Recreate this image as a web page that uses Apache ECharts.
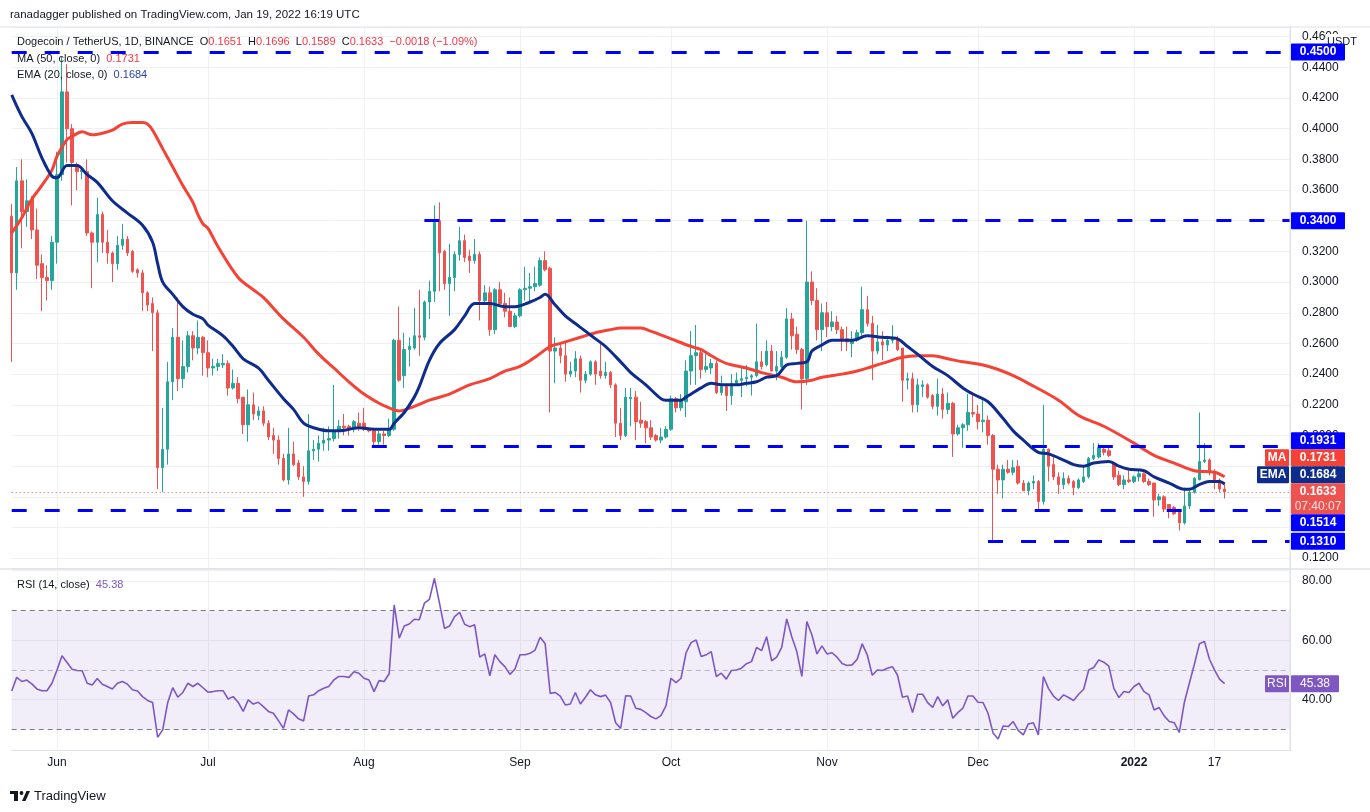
<!DOCTYPE html>
<html lang="en">
<head>
<meta charset="UTF-8">
<title>Dogecoin / TetherUS, 1D</title>
<script src="https://cdn.jsdelivr.net/npm/echarts@6/dist/echarts.min.js"></script>
<style>
  html, body { margin: 0; padding: 0; background: #fff; }
  #main { width: 1370px; height: 812px; }
</style>
</head>
<body>
<div id="main"></div>
<script>
// first daily candle and length of the time axis (a few empty days on the right)
const firstDay = [2021, 4, 23];
const dayCount = 255;

// time axis labels (and vertical grid lines)
const timeLabels = {
  '2021-06-01': 'Jun', '2021-07-01': 'Jul', '2021-08-01': 'Aug', '2021-09-01': 'Sep',
  '2021-10-01': 'Oct', '2021-11-01': 'Nov', '2021-12-01': 'Dec', '2022-01-01': '2022', '2022-01-17': '17'
};

// daily candles: [open, high, low, close]
const ohlc = [
  [0.343,0.351,0.248,0.306],[0.306,0.375,0.295,0.366],[0.366,0.380,0.322,0.346],[0.346,0.367,0.336,0.353],[0.354,0.356,0.328,0.334],
  [0.334,0.348,0.302,0.311],[0.312,0.318,0.281,0.303],[0.303,0.311,0.288,0.301],[0.301,0.330,0.295,0.326],[0.326,0.385,0.312,0.370],
  [0.370,0.447,0.366,0.424],[0.424,0.442,0.378,0.400],[0.400,0.403,0.350,0.378],[0.376,0.378,0.360,0.372],[0.372,0.375,0.367,0.373],
  [0.372,0.380,0.330,0.332],[0.332,0.333,0.296,0.326],[0.326,0.355,0.313,0.344],[0.344,0.346,0.319,0.326],[0.326,0.334,0.312,0.319],
  [0.319,0.320,0.300,0.312],[0.312,0.330,0.308,0.324],[0.324,0.338,0.321,0.328],[0.328,0.330,0.317,0.319],[0.320,0.321,0.306,0.307],
  [0.308,0.309,0.303,0.306],[0.306,0.308,0.281,0.293],[0.293,0.294,0.281,0.285],[0.286,0.290,0.255,0.280],[0.280,0.282,0.165,0.179],
  [0.179,0.218,0.163,0.191],[0.191,0.248,0.181,0.235],[0.235,0.270,0.223,0.264],[0.264,0.290,0.229,0.237],[0.237,0.262,0.231,0.245],
  [0.245,0.268,0.241,0.265],[0.265,0.268,0.249,0.257],[0.257,0.275,0.253,0.264],[0.264,0.265,0.239,0.254],[0.254,0.262,0.238,0.244],
  [0.244,0.250,0.239,0.245],[0.245,0.250,0.242,0.247],[0.246,0.253,0.244,0.247],[0.247,0.249,0.226,0.231],[0.231,0.243,0.230,0.234],
  [0.234,0.238,0.221,0.224],[0.225,0.225,0.201,0.207],[0.207,0.230,0.196,0.220],[0.220,0.228,0.210,0.214],[0.213,0.219,0.210,0.216],
  [0.216,0.219,0.206,0.208],[0.208,0.210,0.197,0.199],[0.200,0.205,0.188,0.197],[0.197,0.200,0.181,0.185],[0.185,0.188,0.170,0.171],
  [0.171,0.205,0.168,0.188],[0.188,0.196,0.180,0.181],[0.182,0.184,0.171,0.173],[0.173,0.180,0.160,0.170],[0.170,0.214,0.168,0.190],
  [0.190,0.197,0.184,0.191],[0.191,0.200,0.183,0.195],[0.195,0.205,0.190,0.197],[0.197,0.206,0.190,0.198],[0.198,0.233,0.196,0.203],
  [0.203,0.210,0.198,0.206],[0.206,0.214,0.200,0.205],[0.206,0.207,0.200,0.204],[0.204,0.210,0.202,0.209],[0.208,0.215,0.203,0.206],
  [0.208,0.218,0.203,0.204],[0.204,0.205,0.202,0.203],[0.203,0.205,0.193,0.196],[0.196,0.203,0.194,0.201],[0.201,0.203,0.194,0.200],
  [0.200,0.211,0.199,0.204],[0.204,0.263,0.203,0.262],[0.262,0.284,0.235,0.236],[0.239,0.267,0.231,0.256],[0.256,0.264,0.245,0.258],
  [0.257,0.283,0.256,0.265],[0.265,0.295,0.252,0.264],[0.264,0.288,0.262,0.287],[0.287,0.301,0.276,0.294],[0.294,0.350,0.287,0.339],
  [0.340,0.352,0.294,0.319],[0.320,0.321,0.295,0.299],[0.299,0.325,0.278,0.303],[0.303,0.320,0.294,0.318],[0.318,0.336,0.314,0.327],
  [0.327,0.331,0.313,0.316],[0.317,0.321,0.306,0.314],[0.314,0.328,0.312,0.318],[0.318,0.320,0.275,0.288],[0.288,0.298,0.285,0.293],
  [0.293,0.297,0.265,0.269],[0.269,0.296,0.266,0.295],[0.295,0.300,0.284,0.286],[0.286,0.293,0.277,0.281],[0.281,0.290,0.271,0.271],
  [0.271,0.280,0.270,0.278],[0.278,0.296,0.277,0.295],[0.295,0.310,0.288,0.296],[0.296,0.306,0.287,0.297],[0.297,0.310,0.294,0.299],
  [0.298,0.316,0.297,0.314],[0.314,0.320,0.307,0.308],[0.309,0.310,0.215,0.255],[0.255,0.264,0.234,0.257],[0.257,0.260,0.247,0.252],
  [0.252,0.261,0.235,0.240],[0.240,0.248,0.238,0.242],[0.242,0.255,0.238,0.250],[0.250,0.252,0.228,0.236],[0.236,0.242,0.234,0.240],
  [0.240,0.249,0.239,0.248],[0.248,0.249,0.233,0.240],[0.242,0.260,0.237,0.239],[0.239,0.248,0.237,0.241],[0.241,0.242,0.231,0.233],
  [0.233,0.234,0.199,0.208],[0.208,0.218,0.197,0.200],[0.200,0.231,0.199,0.225],[0.224,0.231,0.206,0.225],[0.225,0.229,0.197,0.209],
  [0.210,0.222,0.205,0.208],[0.209,0.210,0.195,0.205],[0.205,0.210,0.197,0.199],[0.200,0.201,0.196,0.197],[0.197,0.205,0.195,0.199],
  [0.199,0.206,0.198,0.204],[0.204,0.226,0.203,0.224],[0.224,0.225,0.215,0.218],[0.218,0.227,0.216,0.223],[0.222,0.249,0.212,0.242],
  [0.242,0.268,0.233,0.252],[0.252,0.272,0.233,0.254],[0.254,0.256,0.237,0.243],[0.243,0.255,0.241,0.245],[0.244,0.250,0.240,0.247],
  [0.247,0.249,0.227,0.228],[0.228,0.239,0.226,0.232],[0.232,0.233,0.216,0.226],[0.226,0.240,0.220,0.234],[0.234,0.241,0.233,0.236],
  [0.236,0.244,0.225,0.237],[0.237,0.246,0.232,0.238],[0.238,0.240,0.226,0.239],[0.239,0.273,0.238,0.248],[0.248,0.255,0.243,0.245],
  [0.246,0.262,0.245,0.255],[0.255,0.259,0.242,0.242],[0.242,0.255,0.236,0.245],[0.245,0.255,0.244,0.251],[0.251,0.283,0.250,0.276],
  [0.276,0.280,0.256,0.265],[0.266,0.271,0.253,0.256],[0.256,0.257,0.217,0.237],[0.237,0.340,0.233,0.300],[0.300,0.307,0.285,0.288],
  [0.288,0.296,0.262,0.269],[0.269,0.286,0.255,0.280],[0.280,0.287,0.264,0.271],[0.271,0.281,0.268,0.274],[0.274,0.278,0.266,0.269],
  [0.269,0.271,0.255,0.262],[0.263,0.271,0.255,0.261],[0.260,0.268,0.251,0.262],[0.262,0.269,0.261,0.267],[0.267,0.297,0.265,0.282],
  [0.282,0.291,0.271,0.273],[0.273,0.278,0.236,0.255],[0.255,0.272,0.253,0.261],[0.261,0.268,0.249,0.259],[0.259,0.265,0.255,0.262],
  [0.262,0.272,0.260,0.263],[0.263,0.265,0.255,0.256],[0.257,0.257,0.222,0.236],[0.236,0.241,0.230,0.237],[0.237,0.241,0.215,0.220],
  [0.220,0.237,0.215,0.233],[0.232,0.236,0.225,0.233],[0.233,0.234,0.224,0.225],[0.226,0.227,0.217,0.219],[0.219,0.237,0.213,0.227],
  [0.227,0.231,0.211,0.217],[0.217,0.228,0.214,0.221],[0.221,0.222,0.186,0.201],[0.201,0.207,0.200,0.205],[0.205,0.208,0.192,0.207],
  [0.207,0.227,0.203,0.215],[0.215,0.227,0.212,0.214],[0.214,0.220,0.204,0.209],[0.209,0.223,0.202,0.210],[0.210,0.213,0.194,0.200],
  [0.200,0.201,0.131,0.178],[0.178,0.181,0.162,0.171],[0.171,0.181,0.159,0.178],[0.178,0.184,0.175,0.176],[0.176,0.184,0.174,0.179],
  [0.180,0.184,0.168,0.169],[0.169,0.171,0.164,0.164],[0.164,0.170,0.161,0.169],[0.169,0.174,0.165,0.170],[0.170,0.171,0.151,0.157],
  [0.157,0.220,0.155,0.191],[0.191,0.1915,0.170,0.180],[0.181,0.186,0.171,0.173],[0.173,0.176,0.162,0.168],[0.168,0.176,0.165,0.172],
  [0.172,0.174,0.168,0.169],[0.170,0.171,0.161,0.166],[0.166,0.172,0.165,0.171],[0.170,0.180,0.169,0.173],[0.173,0.186,0.172,0.185],
  [0.185,0.195,0.184,0.187],[0.186,0.195,0.185,0.192],[0.191,0.193,0.187,0.189],[0.190,0.193,0.186,0.187],[0.182,0.183,0.171,0.173],
  [0.174,0.177,0.167,0.168],[0.168,0.174,0.165,0.171],[0.171,0.177,0.169,0.170],[0.170,0.174,0.169,0.173],[0.173,0.177,0.170,0.175],
  [0.175,0.176,0.169,0.170],[0.170,0.172,0.167,0.168],[0.169,0.169,0.147,0.158],[0.158,0.162,0.154,0.160],[0.160,0.161,0.150,0.152],
  [0.155,0.155,0.146,0.151],[0.153,0.154,0.148,0.149],[0.151,0.152,0.138,0.143],[0.143,0.166,0.142,0.154],[0.154,0.164,0.152,0.163],
  [0.163,0.173,0.162,0.172],[0.171,0.215,0.171,0.183],[0.183,0.195,0.182,0.184],[0.184,0.185,0.174,0.176],[0.176,0.178,0.165,0.171],
  [0.171,0.172,0.163,0.1651],[0.1651,0.1696,0.1589,0.1633]
];

// moving averages read at sample days: [candle number (1 = first), value]
const ma50 = [
  [1,0.332],[3,0.342],[5,0.354],[7,0.363],[9,0.373],[10,0.382],[12,0.393],[13,0.395],[15,0.398],[17,0.396],
  [19,0.397],[21,0.399],[23,0.403],[25,0.404],[27,0.404],[28,0.403],[29,0.399],[31,0.387],[33,0.375],[35,0.363],
  [37,0.352],[38,0.344],[39,0.338],[40,0.335],[42,0.323],[46,0.303],[49,0.295],[51,0.290],[55,0.276],[59,0.264],
  [62,0.253],[65,0.244],[68,0.235],[71,0.227],[74,0.221],[76,0.218],[78,0.216],[81,0.219],[84,0.223],[88,0.227],
  [92,0.233],[96,0.237],[99,0.242],[102,0.245],[105,0.251],[108,0.258],[110,0.260],[114,0.264],[117,0.267],[120,0.269],
  [122,0.270],[126,0.270],[128,0.268],[132,0.263],[136,0.258],[138,0.256],[140,0.252],[143,0.247],[147,0.244],[150,0.241],
  [154,0.238],[157,0.235],[160,0.236],[162,0.238],[166,0.240],[169,0.242],[172,0.245],[175,0.248],[178,0.251],[181,0.252],
  [184,0.252],[187,0.250],[190,0.248],[194,0.246],[197,0.243],[200,0.239],[203,0.234],[209,0.223],[213,0.213],[218,0.206],
  [224,0.195],[228,0.187],[232,0.182],[236,0.177],[240,0.176],[242,0.1731]
];
const ema20 = [
  [1,0.422],[3,0.408],[5,0.397],[7,0.381],[9,0.369],[10,0.368],[12,0.376],[14,0.376],[16,0.370],[18,0.365],
  [21,0.353],[24,0.345],[27,0.337],[29,0.326],[30,0.312],[31,0.300],[33,0.292],[35,0.284],[37,0.279],[39,0.276],
  [40,0.272],[43,0.265],[45,0.258],[47,0.250],[50,0.244],[52,0.236],[55,0.224],[57,0.217],[59,0.208],[61,0.205],
  [64,0.203],[66,0.203],[70,0.205],[73,0.204],[76,0.204],[77,0.208],[79,0.215],[81,0.225],[82,0.232],[84,0.249],
  [86,0.260],[89,0.269],[91,0.278],[93,0.286],[96,0.286],[99,0.284],[101,0.284],[104,0.287],[106,0.290],[107,0.292],
  [109,0.285],[111,0.278],[113,0.273],[115,0.268],[117,0.263],[119,0.258],[122,0.248],[124,0.241],[127,0.233],[130,0.224],
  [131,0.223],[134,0.223],[135,0.225],[138,0.231],[140,0.234],[142,0.233],[145,0.233],[147,0.234],[149,0.235],[151,0.238],
  [153,0.239],[155,0.246],[157,0.247],[159,0.248],[160,0.255],[162,0.259],[164,0.262],[168,0.262],[171,0.265],[174,0.264],
  [177,0.263],[179,0.258],[181,0.253],[184,0.245],[187,0.239],[190,0.231],[192,0.227],[195,0.222],[198,0.211],[200,0.203],
  [202,0.197],[205,0.189],[207,0.188],[210,0.184],[212,0.181],[214,0.180],[216,0.182],[219,0.183],[221,0.180],[223,0.178],
  [226,0.177],[228,0.173],[231,0.169],[234,0.165],[235,0.165],[237,0.168],[239,0.170],[241,0.170],[242,0.1684]
];

// RSI (14) per candle
const rsi14 = [
  42.9,47.5,46.1,46.6,45.3,43.6,43.0,43.0,45.5,50.0, 54.8,52.5,50.2,49.8,49.7,45.5,44.9,47.1,45.2,44.4,
  43.6,45.5,46.1,45.2,43.3,42.9,41.0,39.7,39.0,27.3, 29.8,39.0,44.0,40.8,42.4,45.5,44.4,45.5,44.0,42.5,
  42.7,43.0,43.0,40.2,41.0,39.1,36.0,39.9,38.5,39.1, 37.6,36.0,35.4,32.9,30.3,36.5,35.2,33.5,32.8,41.2,
  41.6,43.0,43.8,44.4,46.6,47.8,47.8,47.5,49.4,48.9, 47.2,46.6,42.7,46.4,46.1,48.7,71.9,60.7,64.8,65.5,
  67.1,66.9,72.5,73.8,80.9,72.5,64.0,64.8,68.0,69.4, 65.4,64.6,65.2,54.3,55.4,48.0,55.1,52.8,51.1,48.5,
  50.3,55.1,55.1,55.6,56.7,61.0,58.8,42.1,42.4,41.2, 38.2,38.5,42.4,38.5,40.8,43.3,41.6,41.0,41.5,39.0,
  32.2,30.3,41.3,41.2,37.1,36.7,35.6,34.3,33.5,34.6, 37.9,47.2,45.7,47.2,55.8,59.2,60.1,54.5,55.1,56.2,
  47.8,48.9,46.9,49.8,50.0,50.6,52.1,52.8,57.6,56.5, 61.2,53.1,54.3,57.6,67.2,61.2,56.2,47.8,66.3,61.8,
  55.4,58.1,55.4,55.8,54.3,52.2,51.5,51.7,53.6,58.8, 55.1,48.2,50.0,49.8,50.6,51.1,48.3,40.8,41.2,35.6,
  41.8,41.8,39.0,37.4,41.0,37.9,39.9,33.7,35.6,37.1, 41.2,41.2,39.1,39.0,35.4,28.7,26.7,31.1,30.9,32.6,
  29.6,28.1,31.8,32.2,28.1,47.8,43.8,41.2,39.7,41.6, 40.7,39.7,41.8,43.5,50.0,50.8,53.4,52.6,51.3,43.8,
  40.7,42.7,42.4,44.4,45.5,42.7,41.6,36.5,37.3,34.5, 32.6,32.2,28.9,39.0,45.5,51.9,58.8,59.6,53.6,50.0,
  46.9,45.38
];

// horizontal support / resistance levels: value and first candle number
const levels = [
  { value: 0.4500, from: 1 },
  { value: 0.3400, from: 83 },
  { value: 0.1931, from: 66 },
  { value: 0.1514, from: 1 },
  { value: 0.1310, from: 195 }
];

const lastClose = 0.1633;
const lastMA = 0.1731;
const lastEMA = 0.1684;
const lastRSI = 45.38;

// ---------------------------------------------------------------
const dates = [];
const t0 = Date.UTC(firstDay[0], firstDay[1], firstDay[2]);
for (let i = 0; i < dayCount; i++) {
  dates.push(new Date(t0 + i * 86400000).toISOString().slice(0, 10));
}
const lastDate = dates[dates.length - 1];

const candleData = ohlc.map(r => [r[0], r[3], r[2], r[1]]);
const maData = ma50.map(p => [dates[p[0] - 1], p[1]]);
const emaData = ema20.map(p => [dates[p[0] - 1], p[1]]);
const rsiData = rsi14.map((v, i) => [dates[i], v]);

const FONT = "'Liberation Sans', Arial, sans-serif";
const TXT = '#131722';
const GRID = '#eef0f4';
const UP = '#26a69a', DOWN = '#ef5350';
const MA_C = '#f44336', EMA_C = '#0e2c8e', RSI_C = '#7e57c2', LEVEL_C = '#0000ff';

function isMark(i, v) { return timeLabels[v] !== undefined; }

const levelLines = levels.map(l => [
  { coord: [dates[l.from - 1], l.value], lineStyle: { color: LEVEL_C, width: 3, type: [15, 18] } },
  { coord: [lastDate, l.value] }
]);
levelLines.push([
  { coord: [dates[0], lastClose], lineStyle: { color: DOWN, width: 1, type: [1, 3] } },
  { coord: [lastDate, lastClose] }
]);

const option = {
  animation: false,
  backgroundColor: '#ffffff',
  textStyle: { fontFamily: FONT },
  grid: [
    { left: 11.7, right: 80, top: 27, height: 541 },
    { left: 11.7, right: 80, top: 570, height: 180 }
  ],
  xAxis: [
    {
      type: 'category', gridIndex: 0, data: dates, boundaryGap: false,
      axisLine: { show: false }, axisTick: { show: false }, axisLabel: { show: false },
      splitLine: { show: true, interval: isMark, lineStyle: { color: GRID, width: 1 } }
    },
    {
      type: 'category', gridIndex: 1, data: dates, boundaryGap: false,
      axisLine: { show: true, lineStyle: { color: '#e0e3eb' } }, axisTick: { show: false },
      axisLabel: {
        show: true, interval: isMark, margin: 7, fontSize: 12, color: TXT, fontFamily: FONT,
        formatter: v => timeLabels[v] === '2022' ? '{b|2022}' : (timeLabels[v] || ''),
        rich: { b: { fontWeight: 'bold', fontSize: 12, color: TXT, fontFamily: FONT } }
      },
      splitLine: { show: true, interval: isMark, lineStyle: { color: GRID, width: 1 } }
    }
  ],
  yAxis: [
    {
      type: 'value', gridIndex: 0, position: 'right', min: 0.1136, max: 0.4663, splitNumber: 17,
      axisLine: { show: true, lineStyle: { color: '#e0e3eb' } }, axisTick: { show: false },
      axisLabel: {
        margin: 12, fontSize: 12, color: TXT, fontFamily: FONT,
        formatter: v => Math.abs(v / 0.02 - Math.round(v / 0.02)) < 1e-6 ? v.toFixed(4) : ''
      },
      splitLine: { lineStyle: { color: GRID, width: 1 } }
    },
    {
      type: 'value', gridIndex: 1, position: 'right', min: 23, max: 83.7, splitNumber: 3,
      axisLine: { show: true, lineStyle: { color: '#e0e3eb' } }, axisTick: { show: false },
      axisLabel: {
        margin: 12, fontSize: 12, color: TXT, fontFamily: FONT,
        formatter: v => [40, 60, 80].indexOf(Math.round(v * 1000) / 1000) >= 0 ? v.toFixed(2) : ''
      },
      splitLine: { lineStyle: { color: GRID, width: 1 } }
    }
  ],
  series: [
    {
      name: 'DOGEUSDT', type: 'candlestick', xAxisIndex: 0, yAxisIndex: 0, data: candleData,
      barWidth: 3, clip: false, z: 2,
      itemStyle: { color: UP, color0: DOWN, borderColor: UP, borderColor0: DOWN, borderWidth: 1 },
      markLine: { silent: true, symbol: ['none', 'none'], label: { show: false }, data: levelLines }
    },
    {
      name: 'MA 50', type: 'line', xAxisIndex: 0, yAxisIndex: 0, data: maData,
      smooth: 0.35, showSymbol: false, connectNulls: true, z: 3,
      lineStyle: { color: MA_C, width: 3 }
    },
    {
      name: 'EMA 20', type: 'line', xAxisIndex: 0, yAxisIndex: 0, data: emaData,
      smooth: 0.35, showSymbol: false, connectNulls: true, z: 3,
      lineStyle: { color: EMA_C, width: 3 }
    },
    {
      name: 'RSI', type: 'line', xAxisIndex: 1, yAxisIndex: 1, data: rsiData,
      showSymbol: false, z: 3, lineStyle: { color: RSI_C, width: 1.6 },
      markArea: {
        silent: true, itemStyle: { color: 'rgba(126,87,194,0.1)' },
        data: [[{ yAxis: 30 }, { yAxis: 70 }]]
      },
      markLine: {
        silent: true, symbol: ['none', 'none'], label: { show: false },
        data: [
          { yAxis: 70, lineStyle: { color: '#787b86', type: [5, 4], width: 1 } },
          { yAxis: 50, lineStyle: { color: 'rgba(120,123,134,0.5)', type: [5, 4], width: 1 } },
          { yAxis: 30, lineStyle: { color: '#787b86', type: [5, 4], width: 1 } }
        ]
      }
    }
  ]
};

const chart = echarts.init(document.getElementById('main'));
chart.setOption(option);

// ---- overlays: texts, panes, price-scale tags ----
function txt(x, y, text, opts, z) {
  return {
    type: 'text', x: x, y: y, z: z || 20,
    style: Object.assign({ text: text, fill: TXT, font: '11px ' + FONT, textVerticalAlign: 'middle' }, opts || {})
  };
}
function legend(x, y, label, value, color) {
  return {
    type: 'text', x: x, y: y, z: 20,
    style: {
      text: '{d|' + label + '}  {r|' + value + '}', textVerticalAlign: 'middle', font: '11px ' + FONT,
      rich: { d: { fill: TXT, font: '11px ' + FONT }, r: { fill: color, font: '11px ' + FONT } }
    }
  };
}

const g = [];
// pane borders
g.push({ type: 'line', z: 5, shape: { x1: 0, y1: 27, x2: 1370, y2: 27 }, style: { stroke: '#e0e3eb', lineWidth: 1 } });
g.push({ type: 'line', z: 5, shape: { x1: 0, y1: 569, x2: 1370, y2: 569 }, style: { stroke: '#d1d4dc', lineWidth: 1 } });
g.push({ type: 'line', z: 5, shape: { x1: 1290, y1: 27, x2: 1290, y2: 751 }, style: { stroke: '#e0e3eb', lineWidth: 1 } });

// header and legends
g.push(txt(10, 15, 'ranadagger published on TradingView.com, Jan 19, 2022 16:19 UTC', { font: '11.5px ' + FONT }));
g.push({
  type: 'text', x: 17, y: 42, z: 20,
  style: {
    text: '{d|Dogecoin / TetherUS, 1D, BINANCE}  {d|O}{r|0.1651}  {d|H}{r|0.1696}  {d|L}{r|0.1589}  {d|C}{r|0.1633}  {r|\u22120.0018 (\u22121.09%)}',
    textVerticalAlign: 'middle', font: '11px ' + FONT,
    rich: { d: { fill: TXT, font: '11px ' + FONT }, r: { fill: '#f23645', font: '11px ' + FONT } }
  }
});
g.push(legend(17, 59, 'MA (50, close, 0)', '0.1731', '#f23645'));
g.push(legend(17, 75, 'EMA (20, close, 0)', '0.1684', '#2a44a8'));
g.push(legend(17, 585, 'RSI (14, close)', '45.38', RSI_C));

// price scale unit
g.push({ type: 'rect', z: 19, shape: { x: 1326, y: 34, width: 40, height: 15 }, style: { fill: '#fff' } });
g.push(txt(1357, 42, 'USDT', { font: '11px ' + FONT, textAlign: 'right' }));

// price-scale tags, pushed apart around the fixed last-price tag like the original
const tags = levels.map(l => ({ v: l.value, lines: [l.value.toFixed(4)], fill: LEVEL_C }));
tags.push({ v: lastMA, lines: [lastMA.toFixed(4)], fill: MA_C, tag: 'MA', tagX: 1265 });
tags.push({ v: lastEMA, lines: [lastEMA.toFixed(4)], fill: EMA_C, tag: 'EMA', tagX: 1257 });
tags.push({ v: lastClose, lines: [lastClose.toFixed(4), '07:40:07'], fill: DOWN, fixed: true });
tags.forEach(t => {
  t.y = chart.convertToPixel({ yAxisIndex: 0 }, t.v);
  t.h = t.lines.length > 1 ? 31 : 17;
  t.top = t.y - 8.5;
});
tags.sort((a, b) => a.y - b.y);
const k = tags.findIndex(t => t.fixed);
for (let i = k - 1; i >= 0; i--) {
  const lim = tags[i + 1].top;
  if (tags[i].top + tags[i].h > lim) tags[i].top = lim - tags[i].h;
}
for (let i = k + 1; i < tags.length; i++) {
  const lim = tags[i - 1].top + tags[i - 1].h;
  if (tags[i].top < lim) tags[i].top = lim;
}
tags.forEach(t => {
  g.push({ type: 'rect', z: 21, shape: { x: 1291, y: t.top, width: 54, height: t.h, r: 1 }, style: { fill: t.fill } });
  t.lines.forEach((s, j) => {
    g.push(txt(1318, t.top + 8.5 + j * 15, s, {
      fill: j === 0 ? '#ffffff' : 'rgba(255,255,255,0.85)', textAlign: 'center',
      font: (j === 0 ? 'bold ' : '') + '12px ' + FONT
    }, 23));
  });
  if (t.tag) {
    g.push({ type: 'rect', z: 21, shape: { x: t.tagX, y: t.top, width: 1289 - t.tagX, height: t.h, r: 1 }, style: { fill: t.fill } });
    g.push(txt((t.tagX + 1289) / 2, t.top + 8.5, t.tag, { fill: '#ffffff', textAlign: 'center', font: 'bold 12px ' + FONT }, 23));
  }
});

// RSI tag
const ry = chart.convertToPixel({ yAxisIndex: 1 }, lastRSI);
g.push({ type: 'rect', z: 21, shape: { x: 1265, y: ry - 8.5, width: 24, height: 17, r: 1 }, style: { fill: RSI_C } });
g.push(txt(1277, ry, 'RSI', { fill: '#ffffff', textAlign: 'center', font: '12px ' + FONT }, 23));
g.push({ type: 'rect', z: 21, shape: { x: 1291, y: ry - 8.5, width: 48, height: 17, r: 1 }, style: { fill: RSI_C } });
g.push(txt(1315, ry, lastRSI.toFixed(2), { fill: '#ffffff', textAlign: 'center', font: '12px ' + FONT }, 23));

// TradingView logo
g.push({ type: 'rect', z: 20, shape: { x: 10, y: 791, width: 8, height: 3 }, style: { fill: TXT } });
g.push({ type: 'rect', z: 20, shape: { x: 14, y: 791, width: 4, height: 10 }, style: { fill: TXT } });
g.push({ type: 'circle', z: 20, shape: { cx: 21.5, cy: 793, r: 1.9 }, style: { fill: TXT } });
g.push({ type: 'polygon', z: 20, shape: { points: [[22, 801], [26.5, 791], [30, 791], [25.5, 801]] }, style: { fill: TXT } });
g.push(txt(34, 796, 'TradingView', { font: '13px ' + FONT }));

chart.setOption({ graphic: g });
</script>
</body>
</html>
